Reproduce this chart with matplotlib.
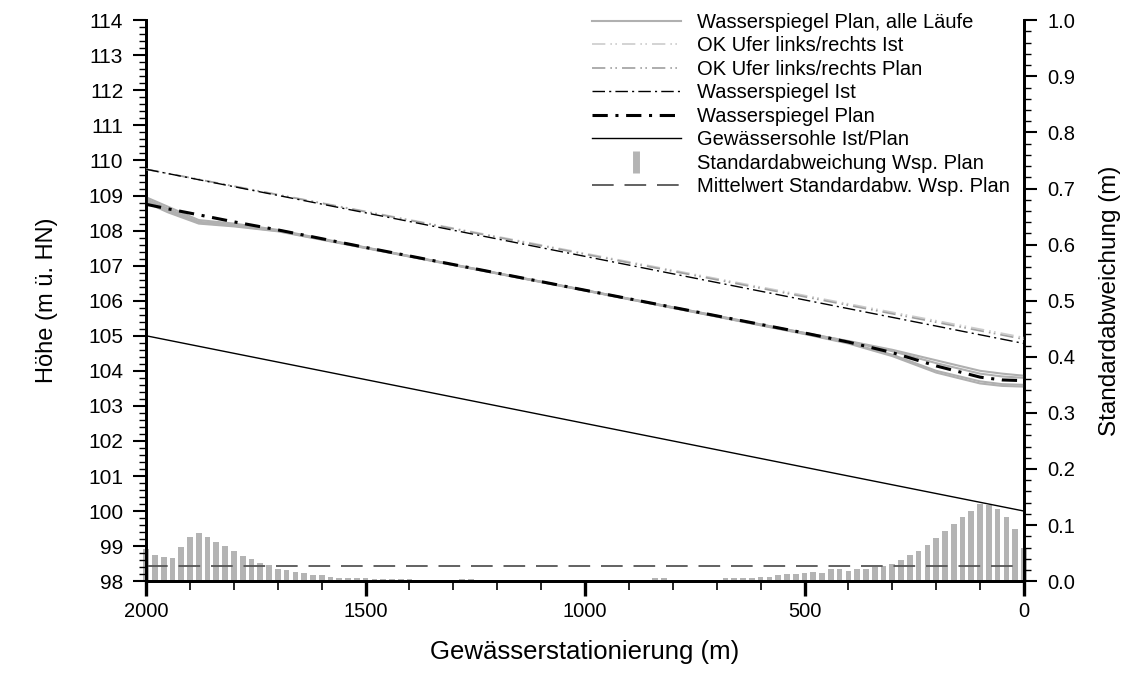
import numpy as np
import matplotlib
matplotlib.use("Agg")
import matplotlib.pyplot as plt
from matplotlib.lines import Line2D
from matplotlib.ticker import MultipleLocator, FormatStrFormatter

plt.rcParams["font.family"] = ["Liberation Sans", "DejaVu Sans"]

# Stationierung (m)
station_lin = [2000, 0]
sohle = [105.0, 100.0]
ok_ufer_ist = [109.75, 104.95]
ok_ufer_plan = [109.75, 104.90]
wsp_ist = [109.75, 104.78]

station_wsp = [2000, 1950, 1880, 1800, 1700, 1500, 1000, 500, 400, 300, 200, 100, 50, 0]
wsp_plan = [108.75, 108.62, 108.45, 108.25, 108.02, 107.52, 106.30, 105.08, 104.82, 104.52, 104.14, 103.82, 103.74, 103.72]
laeufe = [
    [108.95, 108.68, 108.30, 108.20, 108.02, 107.52, 106.30, 105.08, 104.85, 104.60, 104.30, 104.00, 103.92, 103.86],
    [108.90, 108.62, 108.25, 108.17, 108.00, 107.51, 106.30, 105.08, 104.84, 104.56, 104.22, 103.92, 103.84, 103.80],
    [108.85, 108.57, 108.22, 108.14, 107.99, 107.51, 106.29, 105.06, 104.80, 104.46, 104.00, 103.70, 103.62, 103.60],
    [108.80, 108.52, 108.20, 108.12, 107.98, 107.50, 106.29, 105.05, 104.78, 104.42, 103.95, 103.64, 103.57, 103.55],
]

# Standardabweichung Wsp. Plan, alle 20 m
station_std = np.arange(2000, -1, -20)
std_plan = [
    0.058, 0.047, 0.043, 0.041, 0.061, 0.079, 0.086, 0.079, 0.070, 0.063,
    0.054, 0.045, 0.040, 0.033, 0.029, 0.022, 0.020, 0.017, 0.015, 0.011,
    0.011, 0.008, 0.005, 0.005, 0.005, 0.005, 0.003, 0.003, 0.003, 0.003,
    0.003, 0.001, 0.001, 0.000, 0.000, 0.000, 0.003, 0.003, 0.002, 0.001,
    0.000, 0.000, 0.000, 0.000, 0.000, 0.002, 0.002, 0.002, 0.000, 0.000,
    0.000, 0.002, 0.002, 0.000, 0.000, 0.000, 0.000, 0.000, 0.005, 0.005,
    0.000, 0.000, 0.000, 0.000, 0.000, 0.000, 0.005, 0.005, 0.005, 0.005,
    0.008, 0.008, 0.011, 0.012, 0.012, 0.014, 0.017, 0.015, 0.021, 0.021,
    0.019, 0.021, 0.021, 0.026, 0.027, 0.031, 0.037, 0.046, 0.054, 0.065,
    0.077, 0.090, 0.102, 0.115, 0.125, 0.137, 0.135, 0.129, 0.115, 0.093,
    0.060,
]
std_mittel = 0.027

fig = plt.figure(figsize=(11.24, 6.75), dpi=100)
ax = fig.add_axes([0.130, 0.139, 0.781, 0.831])
ax2 = ax.twinx()
ax.set_zorder(ax2.get_zorder() + 1)
ax.patch.set_visible(False)

bar_farbe = "#b4b4b4"
ax2.bar(station_std, std_plan, width=13, color=bar_farbe, zorder=1, clip_on=False)
ax2.axhline(std_mittel, color="#555555", lw=1.3, dashes=(12, 6), zorder=2)

for lauf in laeufe:
    ax.plot(station_wsp, lauf, color="#b0b0b0", lw=1.5, zorder=2)
ax.plot(station_lin, ok_ufer_ist, color="#cccccc", lw=1.2, dashes=(8, 3, 1, 2, 1, 3), zorder=3)
ax.plot(station_lin, ok_ufer_plan, color="#a0a0a0", lw=1.2, dashes=(8, 3, 1, 2, 1, 3), zorder=3)
ax.plot(station_lin, wsp_ist, color="black", lw=1.0, dashes=(9, 3, 1.5, 3), zorder=4)
ax.plot(station_wsp, wsp_plan, color="black", lw=2.2, dashes=(5, 2.5, 1, 2.5), zorder=5)
ax.plot(station_lin, sohle, color="black", lw=1.0, zorder=4)

ax.set_xlim(2000, 0)
ax.set_ylim(98, 114)
ax2.set_ylim(0, 1.0)

ax.xaxis.set_major_locator(MultipleLocator(500))
ax.xaxis.set_minor_locator(MultipleLocator(100))
ax.yaxis.set_major_locator(MultipleLocator(1))
ax.yaxis.set_minor_locator(MultipleLocator(0.2))
ax2.yaxis.set_major_locator(MultipleLocator(0.1))
ax2.yaxis.set_minor_locator(MultipleLocator(0.02))
ax2.yaxis.set_major_formatter(FormatStrFormatter("%.1f"))

for a in (ax, ax2):
    a.spines["top"].set_visible(False)
    for s in ("left", "right", "bottom"):
        a.spines[s].set_linewidth(2.0)

ax.tick_params(axis="x", which="major", direction="out", length=11, width=2.4, labelsize=14.5, pad=4)
ax.tick_params(axis="x", which="minor", direction="out", length=6.5, width=1.2)
ax.tick_params(axis="y", which="major", direction="out", length=9.5, width=1.5, labelsize=15, pad=7)
ax.tick_params(axis="y", which="minor", direction="out", length=5, width=1.0)
ax2.tick_params(axis="y", which="major", direction="out", length=9.5, width=1.5, labelsize=14.5, pad=7.5)
ax2.tick_params(axis="y", which="minor", direction="out", length=5, width=1.0)

ax.set_xlabel("Gewässerstationierung (m)", fontsize=18.5, labelpad=14)
ax.set_ylabel("Höhe (m ü. HN)", fontsize=17, labelpad=22)
ax2.set_ylabel("Standardabweichung (m)", fontsize=17.5, labelpad=17)

handles = [
    Line2D([], [], color="#b0b0b0", lw=1.5),
    Line2D([], [], color="#cccccc", lw=1.2, dashes=(8, 3, 1, 2, 1, 3)),
    Line2D([], [], color="#a0a0a0", lw=1.2, dashes=(8, 3, 1, 2, 1, 3)),
    Line2D([], [], color="black", lw=1.0, dashes=(9, 3, 1.5, 3)),
    Line2D([], [], color="black", lw=2.2, dashes=(5, 2.5, 1, 2.5)),
    Line2D([], [], color="black", lw=1.0),
    Line2D([], [], color=bar_farbe, lw=0, marker="|", markersize=16, markeredgewidth=5),
    Line2D([], [], color="#555555", lw=1.3, dashes=(12, 6)),
]
labels = [
    "Wasserspiegel Plan, alle Läufe",
    "OK Ufer links/rechts Ist",
    "OK Ufer links/rechts Plan",
    "Wasserspiegel Ist",
    "Wasserspiegel Plan",
    "Gewässersohle Ist/Plan",
    "Standardabweichung Wsp. Plan",
    "Mittelwert Standardabw. Wsp. Plan",
]
fig.legend(handles, labels, loc="upper left", bbox_to_anchor=(592 / 1124, 1 - 13 / 675),
           frameon=False, fontsize=14.5, handlelength=4.4, handletextpad=0.8,
           labelspacing=0.22, borderpad=0, borderaxespad=0)

fig.savefig("out.png", dpi=100)
